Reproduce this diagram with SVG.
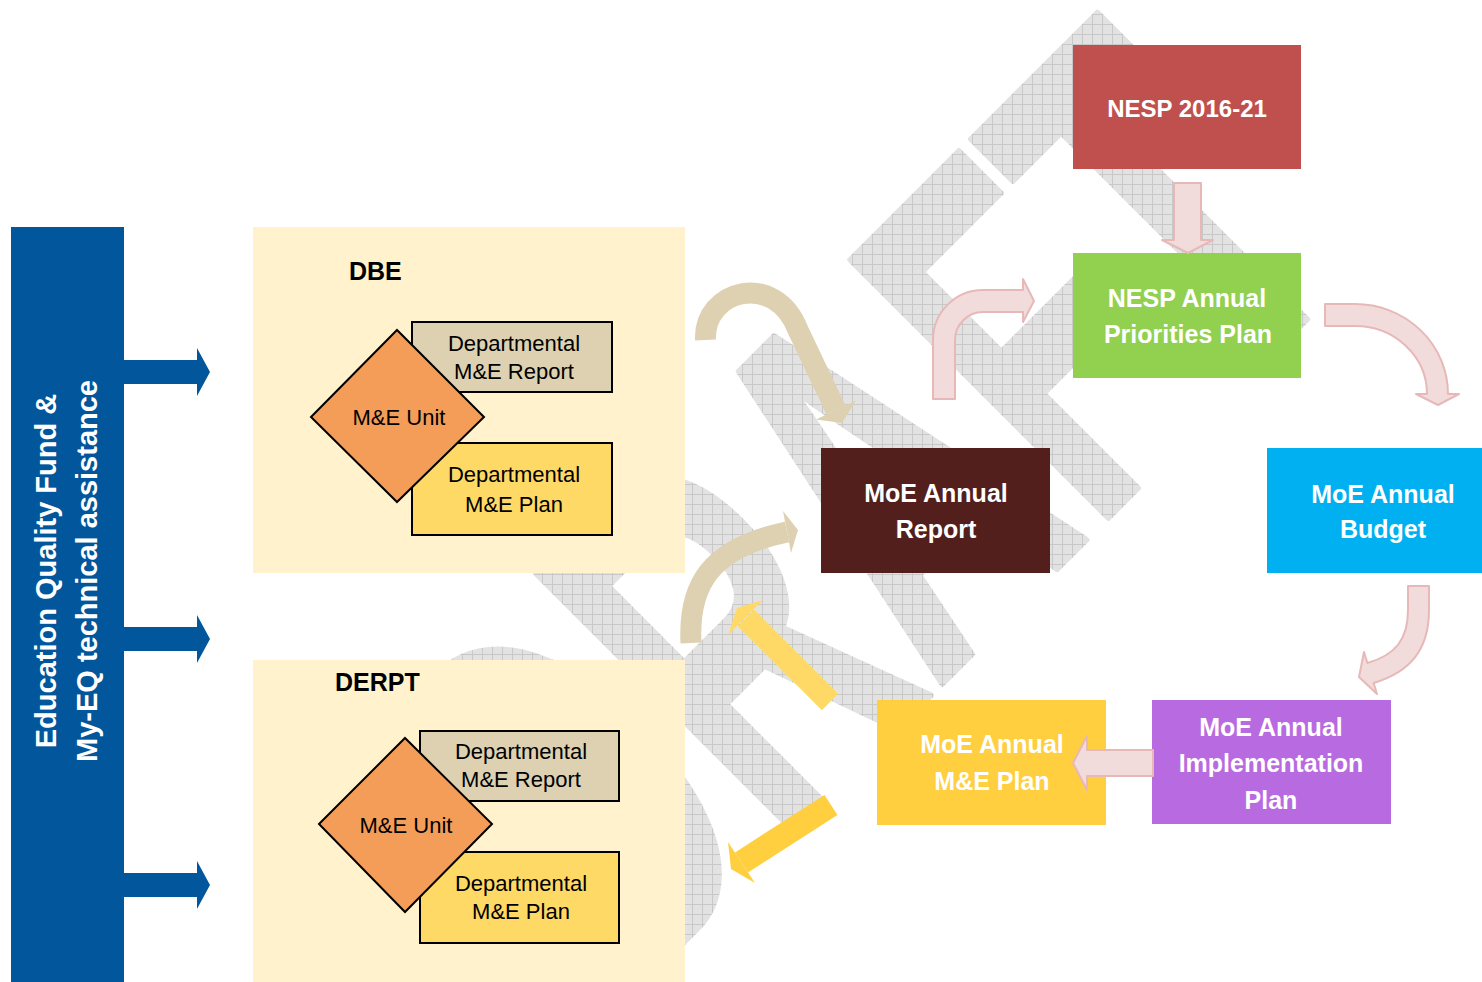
<svg xmlns="http://www.w3.org/2000/svg" width="1482" height="982" viewBox="0 0 1482 982">
<defs>
<pattern id="wmgrid" patternUnits="userSpaceOnUse" width="10" height="10" patternTransform="scale(1.7241,1) rotate(45)">
<rect width="10" height="10" fill="#e2e2e2"/>
<path d="M0,0.5H10M0.5,0V10" stroke="#c8c8c8" stroke-width="1" fill="none"/>
</pattern>
<style>
.wm{font-family:"Liberation Sans",Arial,sans-serif;font-weight:bold;font-size:530px;fill:url(#wmgrid);stroke:url(#wmgrid);stroke-width:6;stroke-linejoin:round}
.lbl{font-family:"Liberation Sans",Arial,sans-serif;font-size:22px;fill:#000;text-anchor:middle}
.ttl{font-family:"Liberation Sans",Arial,sans-serif;font-size:25px;font-weight:bold;fill:#000}
.wt{font-family:"Liberation Sans",Arial,sans-serif;font-size:25px;font-weight:bold;fill:#fff;text-anchor:middle}
.side{font-family:"Liberation Sans",Arial,sans-serif;font-size:29px;font-weight:bold;fill:#fff;text-anchor:middle}
.box{stroke:#000;stroke-width:2}
.pink{fill:#F2DCDB;stroke:#E6B9B8;stroke-width:2;stroke-linejoin:round}
.tan{fill:none;stroke:#DDD1B1;stroke-width:21}
.tanh{fill:#DDD1B1}
.blue{fill:#02569B}
</style>
</defs>
<rect width="1482" height="982" fill="#fff"/>
<g id="watermark">
<text class="wm" transform="translate(622,1004) rotate(-45) scale(0.58,1)">DRAFT</text>
</g>

<g id="n-funding">
<rect class="blue" x="11" y="227" width="113" height="760"/>
<text class="side" transform="translate(56,571) rotate(-90)">Education Quality Fund &amp;</text>
<text class="side" transform="translate(97,571) rotate(-90)">My-EQ technical assistance</text>
</g>

<g id="n-dbe">
<rect x="253" y="227" width="432" height="346" fill="#FFF2CC"/>
<text class="ttl" x="349" y="280">DBE</text>
</g>
<g id="n-dbe-report">
<rect class="box" x="412" y="322" width="200" height="70" fill="#DDD1B1"/>
<text class="lbl" x="514" y="351">Departmental</text>
<text class="lbl" x="514" y="379">M&amp;E Report</text>
</g>
<g id="n-dbe-plan">
<rect class="box" x="412" y="443" width="200" height="92" fill="#FFD966"/>
<text class="lbl" x="514" y="482">Departmental</text>
<text class="lbl" x="514" y="512">M&amp;E Plan</text>
</g>
<g id="n-dbe-unit">
<polygon class="box" points="311,417 397,330 484,417 397,502" fill="#F49D59"/>
<text class="lbl" x="399" y="425">M&amp;E Unit</text>
</g>

<g id="n-derpt">
<rect x="253" y="660" width="432" height="327" fill="#FFF2CC"/>
<text class="ttl" x="335" y="691">DERPT</text>
</g>
<g id="n-derpt-report">
<rect class="box" x="420" y="731" width="199" height="70" fill="#DDD1B1"/>
<text class="lbl" x="521" y="759">Departmental</text>
<text class="lbl" x="521" y="787">M&amp;E Report</text>
</g>
<g id="n-derpt-plan">
<rect class="box" x="420" y="852" width="199" height="91" fill="#FFD966"/>
<text class="lbl" x="521" y="891">Departmental</text>
<text class="lbl" x="521" y="919">M&amp;E Plan</text>
</g>
<g id="n-derpt-unit">
<polygon class="box" points="319,824 405,738 492,824 405,912" fill="#F49D59"/>
<text class="lbl" x="406" y="833">M&amp;E Unit</text>
</g>

<g id="n-nesp">
<rect x="1073" y="45" width="228" height="124" fill="#C0504D"/>
<text class="wt" x="1187" y="117" style="font-size:24px">NESP 2016-21</text>
</g>
<g id="n-nesp-annual">
<rect x="1073" y="253" width="228" height="125" fill="#92D050"/>
<text class="wt" x="1187" y="307">NESP Annual</text>
<text class="wt" x="1188" y="343">Priorities Plan</text>
</g>
<g id="n-moe-report">
<rect x="821" y="448" width="229" height="125" fill="#521F1C"/>
<text class="wt" x="936" y="502">MoE Annual</text>
<text class="wt" x="936" y="538">Report</text>
</g>
<g id="n-moe-budget">
<rect x="1267" y="448" width="230" height="125" fill="#00B0F0"/>
<text class="wt" x="1383" y="503">MoE Annual</text>
<text class="wt" x="1383" y="538">Budget</text>
</g>
<g id="n-moe-impl">
<rect x="1152" y="700" width="239" height="124" fill="#B86BE0"/>
<text class="wt" x="1271" y="736">MoE Annual</text>
<text class="wt" x="1271" y="772">Implementation</text>
<text class="wt" x="1271" y="809">Plan</text>
</g>
<g id="n-moe-me">
<rect x="877" y="700" width="229" height="125" fill="#FFCF40"/>
<text class="wt" x="992" y="753">MoE Annual</text>
<text class="wt" x="992" y="790">M&amp;E Plan</text>
</g>

<g id="connectors">
<polygon class="blue" points="124,360 197,360 197,348 210,372 197,396 197,384 124,384"/>
<polygon class="blue" points="124,627 197,627 197,615 210,639 197,663 197,651 124,651"/>
<polygon class="blue" points="124,873 197,873 197,861 210,885 197,909 197,897 124,897"/>

<path class="pink" d="M1174,183 L1201,183 L1201,240 L1213,240 L1188,253 L1162,240 L1174,240 Z"/>
<path class="pink" d="M1325,304 L1355,304 A93,90 0 0 1 1448,394 L1459,394 L1438,405 L1416,394 L1427,394 A72,68 0 0 0 1355,326 L1325,326 Z"/>
<path class="pink" d="M1429,586 L1429,610 C1429,650 1410,672 1373.6,683 L1377,694 L1359,677 L1364,652 L1367.4,663 C1395,655 1408,640 1408,610 L1408,586 Z"/>
<path class="pink" d="M1153,750 L1087,750 L1087,736 L1073,763 L1087,790 L1087,776 L1153,776 Z"/>
<path class="pink" d="M933,399 L933,340 A50,50 0 0 1 983,290 L1023,290 L1023,279 L1034,301 L1023,322 L1023,312 L983,312 A28,28 0 0 0 955,340 L955,399 Z"/>

<path class="tan" d="M705.5,340 C703,290 775,270 798,330 L836,410"/>
<polygon class="tanh" points="816,419.5 856,400.5 842,423"/>
<path class="tan" d="M691,643 C688,585 710,548 787,532"/>
<polygon class="tanh" points="783,511 791,553 798,530"/>

<path d="M830,702 L746,618" stroke="#FFD966" stroke-width="23" fill="none"/>
<polygon points="728,635 763,600 737,608" fill="#FFD966"/>
<path d="M831,805 L741.5,862.5" stroke="#FFCF40" stroke-width="24" fill="none"/>
<polygon points="728,842 755,883 731,869" fill="#FFCF40"/>
</g>
</svg>
